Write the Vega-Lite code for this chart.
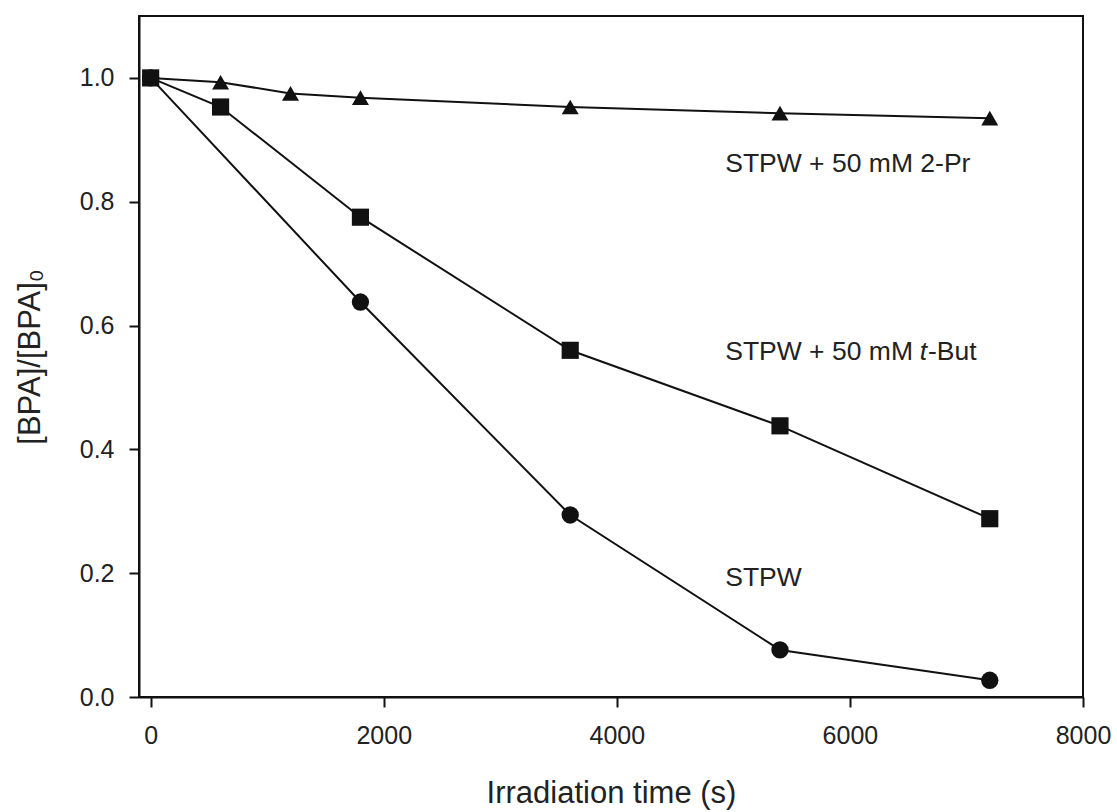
{
  "$schema": "https://vega.github.io/schema/vega-lite/v6.json",
  "width": 944,
  "height": 681,
  "autosize": {"type": "none"},
  "padding": {"left": 139, "top": 16, "right": 34, "bottom": 115},
  "background": "white",
  "config": {
    "font": "Liberation Sans",
    "view": {"stroke": "#111111", "strokeWidth": 2},
    "axis": {
      "domainColor": "#111111", "domainWidth": 2,
      "tickColor": "#111111", "tickWidth": 2, "tickSize": 10,
      "labelColor": "#222222", "titleColor": "#222222",
      "labelFont": "Liberation Sans", "titleFont": "Liberation Sans",
      "labelFontSize": 25, "titleFontSize": 31, "titleFontWeight": "normal",
      "grid": false, "labelFlush": false, "labelOverlap": false
    }
  },
  "datasets": {
    "series": [
      {"t": 0, "v": 1.0, "series": "STPW"},
      {"t": 1800, "v": 0.638, "series": "STPW"},
      {"t": 3600, "v": 0.294, "series": "STPW"},
      {"t": 5400, "v": 0.076, "series": "STPW"},
      {"t": 7200, "v": 0.027, "series": "STPW"},
      {"t": 0, "v": 1.0, "series": "STPW + 50 mM 2-Pr"},
      {"t": 600, "v": 0.993, "series": "STPW + 50 mM 2-Pr"},
      {"t": 1200, "v": 0.975, "series": "STPW + 50 mM 2-Pr"},
      {"t": 1800, "v": 0.968, "series": "STPW + 50 mM 2-Pr"},
      {"t": 3600, "v": 0.953, "series": "STPW + 50 mM 2-Pr"},
      {"t": 5400, "v": 0.943, "series": "STPW + 50 mM 2-Pr"},
      {"t": 7200, "v": 0.935, "series": "STPW + 50 mM 2-Pr"},
      {"t": 0, "v": 1.0, "series": "STPW + 50 mM t-But"},
      {"t": 600, "v": 0.953, "series": "STPW + 50 mM t-But"},
      {"t": 1800, "v": 0.775, "series": "STPW + 50 mM t-But"},
      {"t": 3600, "v": 0.560, "series": "STPW + 50 mM t-But"},
      {"t": 5400, "v": 0.438, "series": "STPW + 50 mM t-But"},
      {"t": 7200, "v": 0.288, "series": "STPW + 50 mM t-But"}
    ],
    "notes": [
      {"t": 4930, "v": 0.861, "label": "STPW + 50 mM 2-Pr"},
      {"t": 4930, "v": 0.5565, "label": "STPW + 50 mM"},
      {"t": 6670, "v": 0.5565, "label": "-But"},
      {"t": 4930, "v": 0.193, "label": "STPW"}
    ],
    "notesItalic": [
      {"t": 6600, "v": 0.5565, "label": "t"}
    ]
  },
  "layer": [
    {
      "data": {"name": "series"},
      "mark": {"type": "line", "color": "#111111", "strokeWidth": 2},
      "encoding": {
        "x": {"field": "t", "type": "quantitative",
              "scale": {"domain": [-100, 8000], "nice": false, "zero": false},
              "axis": {"title": "Irradiation time (s)", "values": [0, 2000, 4000, 6000, 8000], "format": "d", "labelPadding": 16, "titlePadding": 30}},
        "y": {"field": "v", "type": "quantitative",
              "scale": {"domain": [0, 1.1], "nice": false},
              "axis": {"title": "[BPA]/[BPA]₀", "values": [0, 0.2, 0.4, 0.6, 0.8, 1.0], "format": ".1f", "labelPadding": 15, "titlePadding": 33}},
        "detail": {"field": "series"}
      }
    },
    {
      "data": {"name": "series"},
      "mark": {"type": "point", "filled": true, "color": "#111111", "opacity": 1},
      "encoding": {
        "x": {"field": "t", "type": "quantitative"},
        "y": {"field": "v", "type": "quantitative"},
        "shape": {"field": "series", "type": "nominal",
                  "scale": {"domain": ["STPW", "STPW + 50 mM t-But", "STPW + 50 mM 2-Pr"], "range": ["circle", "square", "triangle-up"]},
                  "legend": null},
        "size": {"field": "series", "type": "nominal",
                 "scale": {"domain": ["STPW", "STPW + 50 mM t-But", "STPW + 50 mM 2-Pr"], "range": [300, 289, 380]},
                 "legend": null}
      }
    },
    {
      "data": {"name": "notes"},
      "mark": {"type": "text", "align": "left", "baseline": "middle", "fontSize": 26.5, "color": "#222222", "font": "Liberation Sans"},
      "encoding": {
        "x": {"field": "t", "type": "quantitative"},
        "y": {"field": "v", "type": "quantitative"},
        "text": {"field": "label"}
      }
    },
    {
      "data": {"name": "notesItalic"},
      "mark": {"type": "text", "align": "left", "baseline": "middle", "fontSize": 26.5, "fontStyle": "italic", "color": "#222222", "font": "Liberation Sans"},
      "encoding": {
        "x": {"field": "t", "type": "quantitative"},
        "y": {"field": "v", "type": "quantitative"},
        "text": {"field": "label"}
      }
    }
  ]
}
